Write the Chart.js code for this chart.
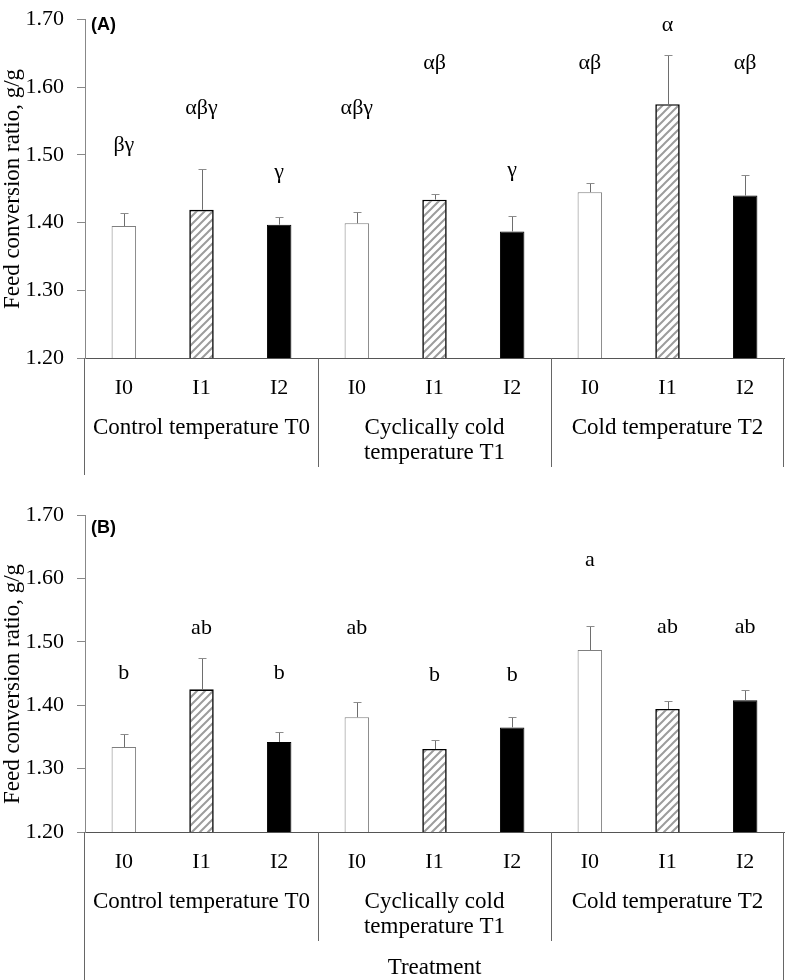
<!DOCTYPE html>
<html>
<head>
<meta charset="utf-8">
<script src="https://cdn.jsdelivr.net/npm/chart.js@4.4.1/dist/chart.umd.min.js"></script>
<style>
  html, body { margin: 0; padding: 0; background: #fff; }
  #wrap { position: relative; width: 785px; height: 980px; overflow: hidden; }
  .panel { position: absolute; left: 0; width: 785px; }
</style>
</head>
<body>
<div id="wrap">
  <div class="panel" style="top:0;height:480px"><canvas id="chartA" width="785" height="480"></canvas></div>
  <div class="panel" style="top:480px;height:500px"><canvas id="chartB" width="785" height="500"></canvas></div>
</div>
<script>
// ---- data ----
const subLabels   = ['I0', 'I1', 'I2'];
const groupLabels = [['Control temperature T0'], ['Cyclically cold', 'temperature T1'], ['Cold temperature T2']];
const tickLabels  = groupLabels.flatMap(() => subLabels);

// panel A
const fcrA       = [1.395, 1.419, 1.397, 1.399, 1.434, 1.387, 1.445, 1.575, 1.440];
const seA        = [0.019, 0.060, 0.012, 0.016, 0.008, 0.023, 0.014, 0.073, 0.030];
const lettersA   = ['βγ', 'αβγ', 'γ', 'αβγ', 'αβ', 'γ', 'αβ', 'α', 'αβ'];
const letterAtA  = [1.514, 1.569, 1.474, 1.569, 1.636, 1.478, 1.636, 1.691, 1.636];

// panel B
const fcrB       = [1.334, 1.425, 1.342, 1.381, 1.331, 1.365, 1.487, 1.394, 1.408];
const seB        = [0.021, 0.049, 0.016, 0.024, 0.014, 0.017, 0.038, 0.013, 0.016];
const lettersB   = ['b', 'ab', 'b', 'ab', 'b', 'b', 'a', 'ab', 'ab'];
const letterAtB  = [1.450, 1.521, 1.450, 1.521, 1.447, 1.447, 1.629, 1.523, 1.523];

const yMin = 1.2, yMax = 1.7, yStep = 0.1;
const yTitle = 'Feed conversion ratio, g/g';
const xTitle = 'Treatment';

// ---- style ----
const SERIF = "'Liberation Serif', 'Times New Roman', serif";
const SANS  = "'Liberation Sans', Arial, sans-serif";
const barBorder      = ['#7f7f7f', '#000000', '#000000'];
const barBorderWidth = [1, 1.6, 1];

function hatchPattern(ctx) {
  const c = document.createElement('canvas');
  c.width = 8; c.height = 8;
  const g = c.getContext('2d');
  g.fillStyle = '#fff';
  g.fillRect(0, 0, 8, 8);
  g.strokeStyle = '#9c9c9c';
  g.lineWidth = 2;
  g.beginPath();
  g.moveTo(0, 8);  g.lineTo(8, 0);
  g.moveTo(-4, 4); g.lineTo(4, -4);
  g.moveTo(4, 12); g.lineTo(12, 4);
  g.stroke();
  return ctx.createPattern(c, 'repeat');
}

// error bars, letters, grouped axis labels
const panelDecor = {
  id: 'panelDecor',
  afterDatasetsDraw(chart, args, o) {
    const { ctx, scales: { y } } = chart;
    const meta = chart.getDatasetMeta(0);
    ctx.save();
    o.values.forEach((v, i) => {
      const bx = Math.round(meta.data[i].x) + 0.5;
      const y0 = y.getPixelForValue(v);
      const y1 = Math.round(y.getPixelForValue(v + o.errors[i])) + 0.5;
      ctx.lineWidth = 1;
      ctx.strokeStyle = '#6e6e6e';
      ctx.beginPath(); ctx.moveTo(bx, y0); ctx.lineTo(bx, y1); ctx.stroke();
      ctx.strokeStyle = '#8c8c8c';
      ctx.beginPath(); ctx.moveTo(bx - 4, y1); ctx.lineTo(bx + 4, y1); ctx.stroke();
    });
    ctx.fillStyle = '#000';
    ctx.font = `22px ${SERIF}`;
    ctx.textAlign = 'center';
    ctx.textBaseline = 'middle';
    o.letters.forEach((t, i) => ctx.fillText(t, meta.data[i].x, y.getPixelForValue(o.letterAt[i])));
    ctx.restore();
  },
  afterDraw(chart, args, o) {
    const { ctx, chartArea: a, scales: { x } } = chart;
    const H = chart.height;
    ctx.save();
    ctx.lineWidth = 1;
    ctx.strokeStyle = '#666';
    // group dividers
    for (let g = 1; g < groupLabels.length; g++) {
      const dx = Math.round((x.getPixelForValue(g * 3 - 1) + x.getPixelForValue(g * 3)) / 2) + 0.5;
      ctx.beginPath(); ctx.moveTo(dx, a.bottom); ctx.lineTo(dx, a.bottom + 109); ctx.stroke();
    }
    // outer lines
    const lx = Math.round(a.left) - 0.5, rx = Math.round(a.right) - 0.5;
    ctx.beginPath(); ctx.moveTo(lx, a.bottom); ctx.lineTo(lx, Math.min(H, a.bottom + o.leftDrop)); ctx.stroke();
    ctx.beginPath(); ctx.moveTo(rx, a.bottom); ctx.lineTo(rx, Math.min(H, a.bottom + o.rightDrop)); ctx.stroke();

    // group labels
    ctx.fillStyle = '#000';
    ctx.font = `23px ${SERIF}`;
    ctx.textAlign = 'center';
    ctx.textBaseline = 'middle';
    groupLabels.forEach((lines, g) => {
      const cx = x.getPixelForValue(g * 3 + 1);
      lines.forEach((t, k) => ctx.fillText(t, cx, a.bottom + 70 + k * 25));
    });
    if (o.showXTitle) {
      ctx.fillText(xTitle, (a.left + a.right) / 2, a.bottom + 136);
    }
    // y title
    ctx.save();
    ctx.translate(13, o.titleY);
    ctx.rotate(-Math.PI / 2);
    ctx.fillText(yTitle, 0, 0);
    ctx.restore();
    // panel tag
    ctx.font = `bold 18px ${SANS}`;
    ctx.textAlign = 'left';
    ctx.fillText(o.tag, 91, a.top + o.tagDy);
    ctx.restore();
  }
};

function buildPanel(id, values, errors, letters, letterAt, layout) {
  const canvas = document.getElementById(id);
  const ctx = canvas.getContext('2d');
  const hatch = hatchPattern(ctx);
  const fills = ['#ffffff', hatch, '#000000'];
  return new Chart(ctx, {
    type: 'bar',
    data: {
      labels: tickLabels,
      datasets: [{
        data: values,
        backgroundColor: tickLabels.map((_, i) => fills[i % 3]),
        borderColor: tickLabels.map((_, i) => barBorder[i % 3]),
        borderWidth: tickLabels.map((_, i) => barBorderWidth[i % 3]),
        barPercentage: 0.315,
        categoryPercentage: 1,
      }],
    },
    options: {
      responsive: false,
      animation: false,
      layout: { padding: { top: layout.padTop, right: 1, left: 0, bottom: 0 } },
      plugins: {
        legend: { display: false },
        tooltip: { enabled: false },
        panelDecor: {
          values, errors, letters, letterAt,
          tag: layout.tag, tagDy: layout.tagDy, titleY: layout.titleY,
          leftDrop: layout.leftDrop, rightDrop: layout.rightDrop, showXTitle: layout.showXTitle,
        },
      },
      scales: {
        x: {
          grid: { display: false, drawTicks: false },
          border: { display: true, color: '#555', width: 1 },
          ticks: { color: '#000', font: { family: SERIF, size: 22 }, padding: 17, maxRotation: 0, autoSkip: false },
          afterFit: s => { s.height = layout.axisHeight; },
        },
        y: {
          min: yMin, max: yMax,
          grid: { drawOnChartArea: false, drawTicks: true, tickLength: 8, color: '#888' },
          border: { display: true, color: '#888', width: 1 },
          ticks: {
            stepSize: yStep, color: '#000', padding: 13,
            font: { family: SERIF, size: 22, lineHeight: 0.6 },
            callback: v => v.toFixed(2),
          },
          afterFit: s => { s.width = 85; },
        },
      },
    },
    plugins: [panelDecor],
  });
}

buildPanel('chartA', fcrA, seA, lettersA, letterAtA, {
  padTop: 8, axisHeight: 122, tag: '(A)', tagDy: 5, titleY: 189,
  leftDrop: 117, rightDrop: 109, showXTitle: false,
});
buildPanel('chartB', fcrB, seB, lettersB, letterAtB, {
  padTop: 35, axisHeight: 148, tag: '(B)', tagDy: 13, titleY: 204,
  leftDrop: 200, rightDrop: 200, showXTitle: true,
});
</script>
</body>
</html>
